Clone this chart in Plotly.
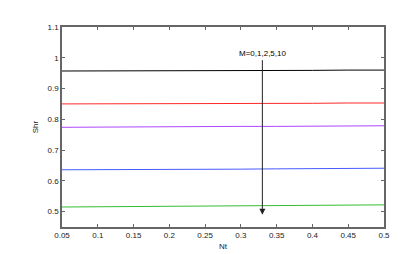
import plotly.graph_objects as go

nt = [0.05, 0.1, 0.15, 0.2, 0.25, 0.3, 0.35, 0.4, 0.45, 0.5]

shr_m0 = [0.957, 0.957, 0.957, 0.958, 0.958, 0.958, 0.959, 0.959, 0.960, 0.960]
shr_m1 = [0.850, 0.850, 0.851, 0.851, 0.851, 0.852, 0.852, 0.852, 0.853, 0.853]
shr_m2 = [0.774, 0.775, 0.775, 0.776, 0.776, 0.777, 0.777, 0.778, 0.778, 0.779]
shr_m5 = [0.636, 0.636, 0.637, 0.637, 0.638, 0.638, 0.639, 0.640, 0.640, 0.641]
shr_m10 = [0.515, 0.516, 0.516, 0.517, 0.518, 0.519, 0.519, 0.520, 0.521, 0.522]

series = [
    ("M=0", shr_m0, "black"),
    ("M=1", shr_m1, "rgb(255,40,40)"),
    ("M=2", shr_m2, "rgb(175,70,255)"),
    ("M=5", shr_m5, "rgb(70,90,255)"),
    ("M=10", shr_m10, "rgb(50,190,50)"),
]

fig = go.Figure()
for name, vals, col in series:
    fig.add_trace(go.Scatter(x=nt, y=vals, mode="lines", name=name,
                             line=dict(color=col, width=1)))

# arrow showing increasing M
fig.add_annotation(x=0.33, y=0.49, ax=0.33, ay=0.997, xref="x", yref="y",
                   axref="x", ayref="y", showarrow=True, arrowhead=2,
                   arrowsize=1.2, arrowwidth=1, arrowcolor="#222", text="")
fig.add_annotation(x=0.33, y=1.015, xref="x", yref="y", text="M=0,1,2,5,10",
                   showarrow=False, font=dict(size=8, color="black"))

axis_style = dict(showline=True, mirror="ticks", linecolor="#666", linewidth=1.5,
                  ticks="inside", ticklen=3, tickcolor="#666", showgrid=False,
                  zeroline=False, tickfont=dict(size=8, color="#222"))

fig.update_layout(
    width=415, height=254,
    margin=dict(l=54, r=39, t=19, b=29),
    paper_bgcolor="white", plot_bgcolor="white",
    showlegend=False,
    font=dict(family="Liberation Sans, Arial", size=8, color="#222"),
    xaxis=dict(range=[0.05, 0.5], dtick=0.05, tick0=0.05,
               title=dict(text="Nt", standoff=4, font=dict(size=8)), **axis_style),
    yaxis=dict(range=[0.45, 1.1], tickvals=[0.5, 0.6, 0.7, 0.8, 0.9, 1, 1.1],
               ticktext=["0.5", "0.6", "0.7", "0.8", "0.9", "1", "1.1"],
               title=dict(text="Shr", standoff=8, font=dict(size=8)), **axis_style),
)

fig.write_html("out.html")
